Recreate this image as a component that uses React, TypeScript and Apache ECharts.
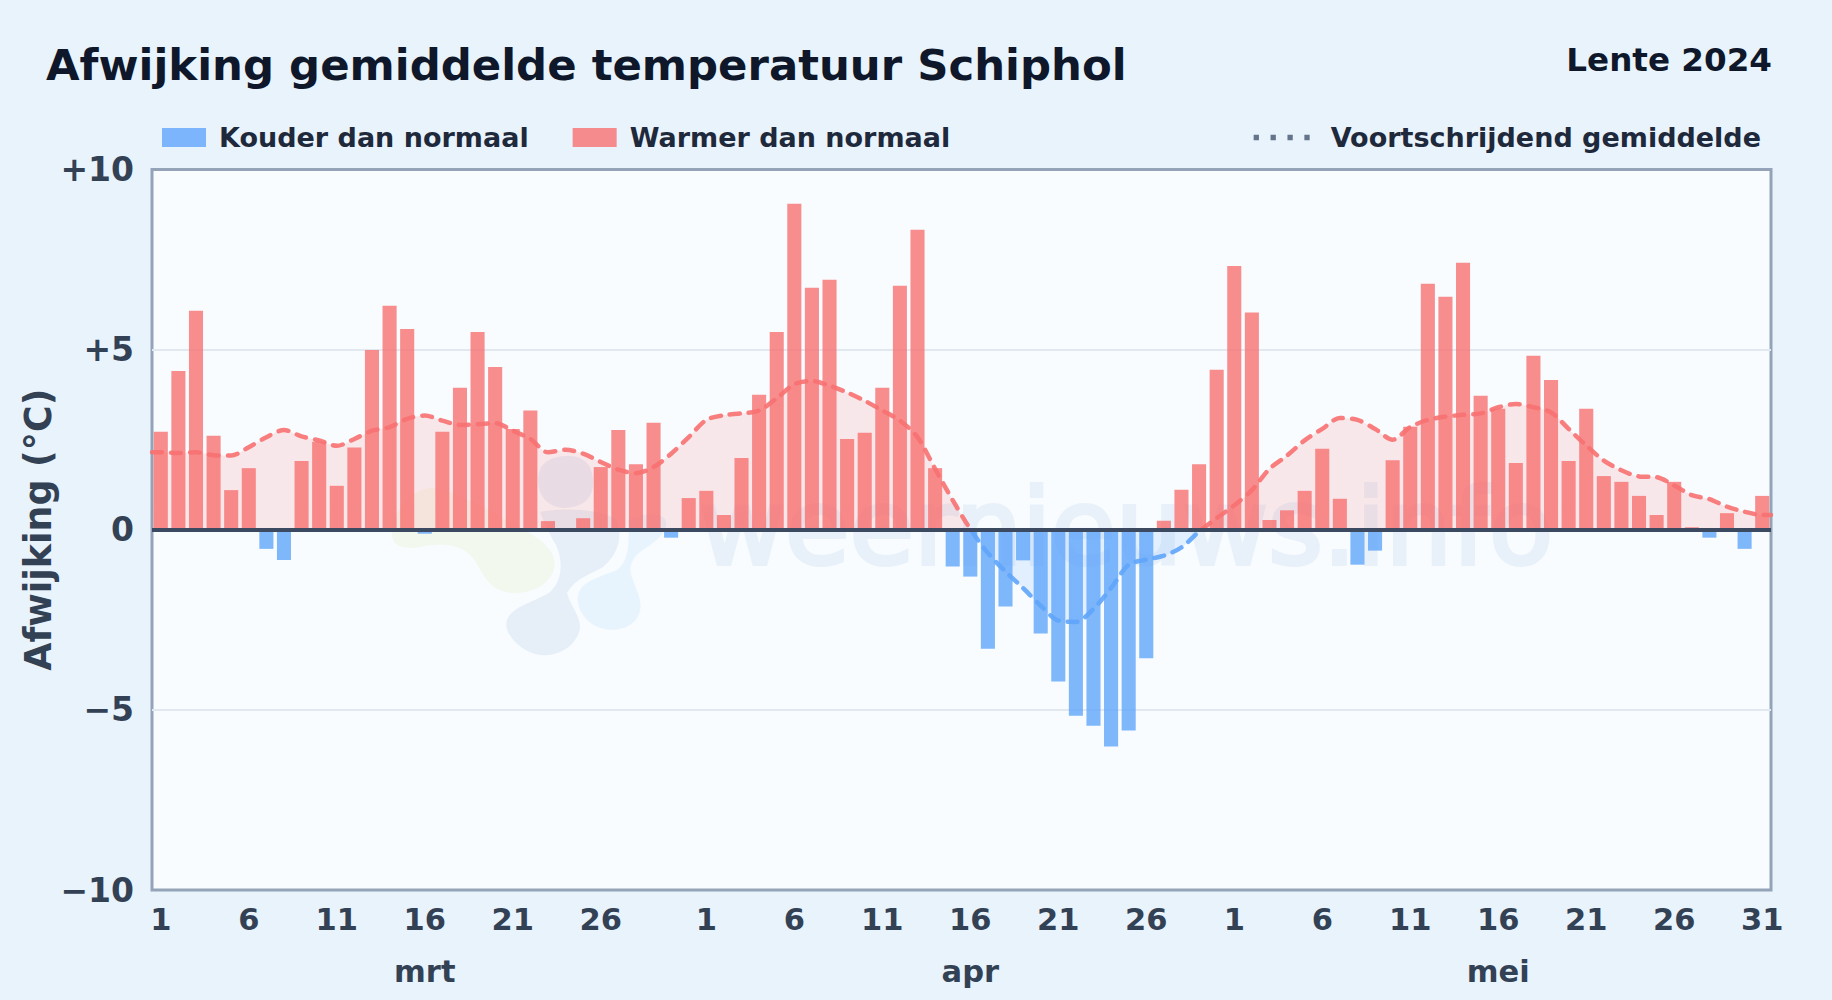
import React, { useEffect, useRef } from "react";
import * as echarts from "echarts";

const FONT = "'DejaVu Sans', sans-serif";

const marchDev = [2.72, 4.41, 6.08, 2.61, 1.1, 1.71, -0.53, -0.84, 1.91, 2.44, 1.22, 2.28, 4.99, 6.22, 5.57, -0.11, 2.72, 3.94, 5.49, 4.52, 2.8, 3.31, 0.24, 0, 0.32, 1.74, 2.77, 1.82, 2.97, -0.22, 0.88];
const aprilDev = [1.08, 0.41, 1.99, 3.75, 5.49, 9.05, 6.72, 6.94, 2.52, 2.69, 3.94, 6.77, 8.33, 1.71, -1.02, -1.3, -3.3, -2.13, -0.85, -2.88, -4.21, -5.16, -5.44, -6.02, -5.57, -3.57, 0.25, 1.11, 1.82, 4.44];
const mayDev = [7.32, 6.03, 0.27, 0.54, 1.08, 2.25, 0.86, -0.97, -0.58, 1.93, 2.86, 6.83, 6.47, 7.41, 3.72, 3.36, 1.85, 4.83, 4.16, 1.91, 3.36, 1.49, 1.33, 0.94, 0.41, 1.33, 0.07, -0.22, 0.46, -0.53, 0.94];

const marchAvg = [2.15, 2.13, 2.15, 2.07, 2.06, 2.29, 2.57, 2.77, 2.59, 2.48, 2.33, 2.52, 2.75, 2.85, 3.08, 3.17, 3.03, 2.91, 2.93, 2.96, 2.75, 2.52, 2.15, 2.22, 2.11, 1.88, 1.67, 1.57, 1.74, 2.11, 2.57];
const aprilAvg = [3.05, 3.18, 3.23, 3.31, 3.65, 4.04, 4.13, 4.0, 3.81, 3.58, 3.31, 3.03, 2.57, 1.69, 0.82, 0.02, -0.65, -1.16, -1.62, -2.11, -2.52, -2.56, -2.2, -1.62, -0.97, -0.83, -0.72, -0.49, -0.05, 0.32];
const mayAvg = [0.68, 1.1, 1.69, 2.06, 2.48, 2.8, 3.1, 3.05, 2.8, 2.5, 2.85, 3.05, 3.14, 3.19, 3.23, 3.4, 3.49, 3.4, 3.26, 2.8, 2.34, 1.92, 1.65, 1.48, 1.46, 1.23, 0.96, 0.85, 0.64, 0.5, 0.41];

const yTickLabels: Record<string, string> = { "10": "+10", "5": "+5", "0": "0", "-5": "\u22125", "-10": "\u221210" };
const monthNames = ["mrt", "apr", "mei"];
const monthLabelDay = 16;
const monthLengths = [marchDev.length, aprilDev.length, mayDev.length];

const deviations = [...marchDev, ...aprilDev, ...mayDev];
const averages = [...marchAvg, ...aprilAvg, ...mayAvg];
const dayNumbers: string[] = [];
const monthAxisLabels: string[] = [];
monthLengths.forEach((len, m) => {
  for (let d = 1; d <= len; d++) {
    dayNumbers.push(String(d));
    monthAxisLabels.push(d === monthLabelDay ? monthNames[m] : "");
  }
});
const hiddenDayIndex = marchDev.length - 1;
const coldBars = deviations.map((v) => (v < 0 ? v : "-"));
const warmBars = deviations.map((v) => (v >= 0 ? v : "-"));
const avgLine = [
  [0, averages[0]],
  ...averages.map((v, i) => [i + 0.5, v]),
  [averages.length, averages[averages.length - 1]],
];

const BLOB_GREEN = "M392 535C390 515 410 490 430 488C450 488 490 510 520 528C545 540 560 555 553 572C545 592 515 597 500 590C485 585 480 565 470 555C455 540 430 545 415 548C400 548 392 545 392 535Z";
const BLOB_GREY = "M540 512C560 508 600 508 617 520C622 535 620 553 603 567C590 575 577 577 567 593C572 610 585 620 578 635C570 652 550 658 535 654C515 648 503 630 507 620C512 606 535 602 550 592C563 580 563 560 556 545C550 535 545 525 540 512Z";
const BLOB_GREY_TOP = "M538 480C538 462 552 456 568 456C585 456 594 466 593 485C592 502 578 508 562 508C548 506 538 497 538 480Z";
const BLOB_LIGHT = "M628 520C645 512 665 512 666 522C668 535 650 545 640 552C630 560 628 570 633 580C638 595 645 605 637 618C628 632 605 633 592 624C580 615 574 600 580 590C586 580 605 575 617 570C628 562 630 545 628 520Z";

echarts.graphic.registerShape("blobGreen", echarts.graphic.extendPath(BLOB_GREEN, {}));
echarts.graphic.registerShape("blobGrey", echarts.graphic.extendPath(BLOB_GREY, {}));
echarts.graphic.registerShape("blobGreyTop", echarts.graphic.extendPath(BLOB_GREY_TOP, {}));
echarts.graphic.registerShape("blobLight", echarts.graphic.extendPath(BLOB_LIGHT, {}));

export default function App() {
  const ref = useRef<HTMLDivElement | null>(null);
  useEffect(() => {
    const chart = echarts.init(ref.current as HTMLDivElement, undefined, { renderer: "svg" });
    const blob = (type: string, fill: string) => ({ type, x: 0, y: 0, silent: true, style: { fill } });
    chart.setOption({
      animation: false,
      backgroundColor: "#e8f3fc",
      textStyle: { fontFamily: FONT },
      title: [
        {
          text: "Afwijking gemiddelde temperatuur Schiphol",
          left: 41,
          top: 38,
          textStyle: { fontFamily: FONT, fontSize: 43.4, fontWeight: "bold", color: "#0f172a" },
        },
        {
          text: "Lente 2024",
          right: 55,
          top: 38,
          textStyle: { fontFamily: FONT, fontSize: 32.6, fontWeight: "bold", color: "#0f172a" },
        },
      ],
      legend: [
        {
          left: 157,
          top: 119,
          icon: "rect",
          itemWidth: 44,
          itemHeight: 19,
          itemGap: 44,
          data: ["Kouder dan normaal", "Warmer dan normaal"],
          textStyle: { fontFamily: FONT, fontSize: 27, fontWeight: "bold", color: "#1e293b", padding: [0, 0, 0, 8] },
        },
        {
          right: 66,
          top: 119,
          itemWidth: 56,
          itemHeight: 19,
          data: [
            {
              name: "Voortschrijdend gemiddelde",
              icon: "path://M0 0H5V5H0ZM16 0H21V5H16ZM32 0H37V5H32ZM48 0H53V5H48Z",
              itemStyle: { color: "#64748b" },
            },
          ],
          textStyle: { fontFamily: FONT, fontSize: 27, fontWeight: "bold", color: "#1e293b", padding: [0, 0, 0, 16] },
        },
      ],
      grid: {
        left: 152,
        top: 169.5,
        width: 1619,
        height: 720.5,
        show: true,
        backgroundColor: "#f8fcff",
        borderColor: "#94a3b8",
        borderWidth: 3,
      },
      xAxis: [
        {
          type: "category",
          data: dayNumbers,
          position: "bottom",
          axisLine: { show: false },
          axisTick: { show: false },
          splitLine: { show: false },
          axisLabel: {
            interval: (i: number) => i !== hiddenDayIndex && (Number(dayNumbers[i]) - 1) % 5 === 0,
            hideOverlap: false,
            margin: 14,
            fontFamily: FONT,
            fontSize: 30.5,
            fontWeight: "bold",
            color: "#334155",
          },
        },
        {
          type: "category",
          data: monthAxisLabels,
          position: "bottom",
          offset: 51,
          axisLine: { show: false },
          axisTick: { show: false },
          splitLine: { show: false },
          axisLabel: {
            interval: 0,
            hideOverlap: false,
            margin: 15,
            fontFamily: FONT,
            fontSize: 30.5,
            fontWeight: "bold",
            color: "#334155",
          },
        },
        { type: "value", min: 0, max: averages.length, show: false, splitLine: { show: false } },
      ],
      yAxis: {
        type: "value",
        min: -10,
        max: 10,
        interval: 5,
        name: "Afwijking (\u00b0C)",
        nameLocation: "middle",
        nameRotate: 90,
        nameGap: 96,
        nameMoveOverlap: false,
        nameTextStyle: { fontFamily: FONT, fontSize: 36.4, fontWeight: "bold", color: "#334155" },
        axisLine: { show: false },
        axisTick: { show: false },
        splitLine: { show: true, showMinLine: false, showMaxLine: false, lineStyle: { color: "#e2e8f0", width: 2 } },
        axisLabel: {
          margin: 18,
          padding: [2, 0, 0, 0],
          formatter: (v: number) => yTickLabels[String(v)] ?? String(v),
          fontFamily: FONT,
          fontSize: 33,
          fontWeight: "bold",
          color: "#334155",
        },
      },
      visualMap: {
        show: false,
        type: "piecewise",
        seriesIndex: 2,
        dimension: 1,
        pieces: [
          { gte: -10, lte: 0, color: "#60a5fa" },
          { gt: 0, lte: 10, color: "#f87171" },
        ],
      },
      graphic: [
        blob("blobGreen", "#f3f8ef"),
        blob("blobGreyTop", "#e6eef8"),
        blob("blobGrey", "#e6eff8"),
        blob("blobLight", "#e7f3fd"),
        {
          type: "text",
          x: 699,
          y: 580,
          silent: true,
          style: {
            text: "weernieuws.info",
            fontFamily: FONT,
            fontSize: 105,
            fontWeight: "normal",
            fill: "#e8f1fa",
            stroke: "#e8f1fa",
            lineWidth: 4,
            textVerticalAlign: "bottom",
          },
        },
      ],
      series: [
        {
          name: "Kouder dan normaal",
          type: "bar",
          data: coldBars,
          barGap: "-100%",
          barCategoryGap: "20%",
          itemStyle: { color: "rgba(96,165,250,0.8)" },
        },
        {
          name: "Warmer dan normaal",
          type: "bar",
          data: warmBars,
          itemStyle: { color: "rgba(248,113,113,0.8)" },
          markLine: {
            silent: true,
            symbol: "none",
            label: { show: false },
            data: [{ yAxis: 0 }],
            lineStyle: { color: "#3b4a60", width: 4, type: "solid" },
            z: 10,
          },
        },
        {
          name: "Voortschrijdend gemiddelde",
          type: "line",
          xAxisIndex: 2,
          data: avgLine,
          smooth: 0.3,
          symbol: "none",
          z: 5,
          lineStyle: { width: 4.5, type: [10, 9], cap: "round", opacity: 0.9 },
          areaStyle: { opacity: 0.15 },
        },
      ],
    });
    return () => chart.dispose();
  }, []);
  return <div ref={ref} style={{ position: "fixed", left: 0, top: 0, width: 1832, height: 1000 }} />;
}
